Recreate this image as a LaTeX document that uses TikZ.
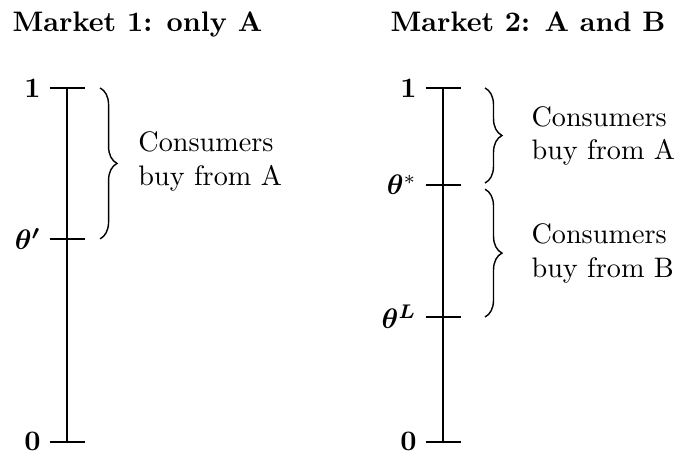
\documentclass[tikz,border=0pt]{standalone}
\usepackage{amsmath,bm}
\usetikzlibrary{decorations.pathreplacing}
\begin{document}
\begin{tikzpicture}[x=1pt,y=1pt,
  axisline/.style={line width=0.5pt},
  lbl/.style={anchor=east,inner sep=3pt},
  bracestyle/.style={decorate,decoration={brace,amplitude=6pt},line width=0.5pt},
  desc/.style={anchor=west,align=left,inner sep=0pt},
  title/.style={anchor=base west,inner sep=0pt,font=\bfseries}]
\useasboundingbox (0,0) rectangle (239,162.4);
% titles
\node[title] (t1) at (4.3,151.4) {Market 1: only A};
\node[title] (t2) at (138.3,151.4) {Market 2: A and B};
% Market 1 axis
\coordinate (a1) at (23.8,131.2);
\coordinate (ap) at (23.8,77.7);
\coordinate (a0) at (23.8,5.7);
\draw[axisline] (a1) -- (a0);
\foreach \c in {a1,ap,a0}{\draw[axisline] ([xshift=-6.2pt]\c) coordinate (\c L) -- ([xshift=6.2pt]\c);}
\node[lbl] (l1) at (a1L) {$\mathbf{1}$};
\node[lbl] (lp) at (apL) {$\bm{\theta'}$};
\node[lbl] (l0) at (a0L) {$\mathbf{0}$};
\coordinate (b1t) at (35.5,131.2);
\coordinate (b1b) at (35.5,77.7);
\draw[bracestyle] (b1t) -- (b1b);
\node[desc] (d1) at (48.9,105) {Consumers\\buy from A};
% Market 2 axis
\coordinate (c1) at (157.1,131.2);
\coordinate (cs) at (157.1,96.8);
\coordinate (cl) at (157.1,50.0);
\coordinate (c0) at (157.1,5.7);
\draw[axisline] (c1) -- (c0);
\foreach \c in {c1,cs,cl,c0}{\draw[axisline] ([xshift=-6.2pt]\c) coordinate (\c L) -- ([xshift=6.2pt]\c);}
\node[lbl] (m1) at (c1L) {$\mathbf{1}$};
\node[lbl] (ms) at (csL) {$\bm{\theta}^*$};
\node[lbl] (ml) at (clL) {$\bm{\theta^L}$};
\node[lbl] (m0) at (c0L) {$\mathbf{0}$};
\coordinate (bAt) at (172,131.2);
\coordinate (bAb) at (172,97.5);
\coordinate (bBt) at (172,95.3);
\coordinate (bBb) at (172,50.0);
\draw[bracestyle] (bAt) -- (bAb);
\draw[bracestyle] (bBt) -- (bBb);
\node[desc] (dA) at (188.3,114.2) {Consumers\\buy from A};
\node[desc] (dB) at (188.3,72.4) {Consumers\\buy from B};
\end{tikzpicture}
\end{document}
